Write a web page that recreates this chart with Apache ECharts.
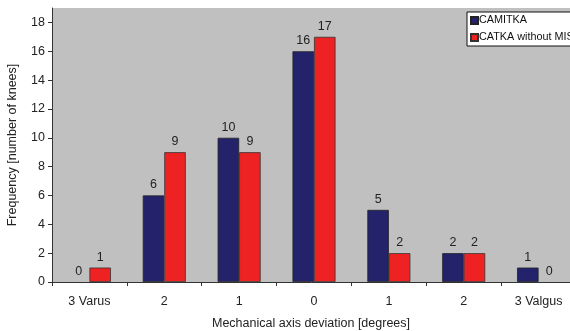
<!DOCTYPE html>
<html><head><meta charset="utf-8">
<script src="https://cdn.jsdelivr.net/npm/echarts@6/dist/echarts.min.js"></script>
<style>html,body{margin:0;padding:0;background:#fff}#c{width:570px;height:331px}</style>
</head><body><div id="c"></div>
<script>
const categories = ['3 Varus', '2', '1', '0', '1', '2', '3 Valgus'];
const camitka = [0, 6, 10, 16, 5, 2, 1];
const catka = [1, 9, 9, 17, 2, 2, 0];
const yTicks = [0, 2, 4, 6, 8, 10, 12, 14, 16, 18];

const chart = echarts.init(document.getElementById('c'));
const font = 'Arial, "Liberation Sans", sans-serif';
const lbl = {show: true, position: 'top', distance: 4, color: '#222', fontSize: 12.5, fontFamily: font};
const toItems = arr => arr.map(v => v === 0 ? {value: v, itemStyle: {borderWidth: 0}} : v);
chart.setOption({
  animation: false,
  textStyle: {fontFamily: font},
  grid: {left: 52, right: -6, top: 8, bottom: 49, show: true, backgroundColor: '#c0c0c0', borderWidth: 0,
         outerBoundsMode: 'none', containLabel: false},
  legend: {
    orient: 'vertical', left: 467, top: 12, width: 200,
    backgroundColor: '#fff', borderColor: '#111', borderWidth: 1,
    padding: [3, 30, 3, 3], itemGap: 6, itemWidth: 7, itemHeight: 7,
    textStyle: {fontSize: 10.8, color: '#111', fontFamily: font, padding: [0, 0, 0, -4], width: 200, overflow: 'none'},
    data: [{name: 'CAMITKA', icon: 'rect'}, {name: 'CATKA without MIS', icon: 'rect'}]
  },
  xAxis: {
    type: 'category', data: categories,
    name: 'Mechanical axis deviation [degrees]', nameLocation: 'middle', nameGap: 35,
    nameTextStyle: {fontSize: 12.5, color: '#222', fontFamily: font, padding: [0, 0, 0, -6]},
    axisLine: {lineStyle: {color: '#333'}},
    axisTick: {show: true, length: 4, lineStyle: {color: '#333'}},
    axisLabel: {color: '#222', fontSize: 12.5, margin: 13, fontFamily: font}
  },
  yAxis: {
    type: 'value', min: 0, max: 19,
    name: 'Frequency [number of knees]', nameLocation: 'middle', nameGap: 33,
    nameTextStyle: {fontSize: 12.5, color: '#222', fontFamily: font},
    axisLine: {show: true, lineStyle: {color: '#333'}},
    axisTick: {show: true, length: 4, lineStyle: {color: '#333'}, customValues: yTicks},
    axisLabel: {color: '#222', fontSize: 12.5, margin: 7, fontFamily: font, customValues: yTicks},
    splitLine: {show: false}
  },
  series: [
    {name: 'CAMITKA', type: 'bar', data: toItems(camitka), barWidth: 21.5, barGap: '0%',
     itemStyle: {color: '#23226b', borderColor: '#222', borderWidth: 0.8}, label: lbl},
    {name: 'CATKA without MIS', type: 'bar', data: toItems(catka), barWidth: 21.5,
     itemStyle: {color: '#ee2222', borderColor: '#333', borderWidth: 0.8}, label: lbl}
  ]
});
</script></body></html>
